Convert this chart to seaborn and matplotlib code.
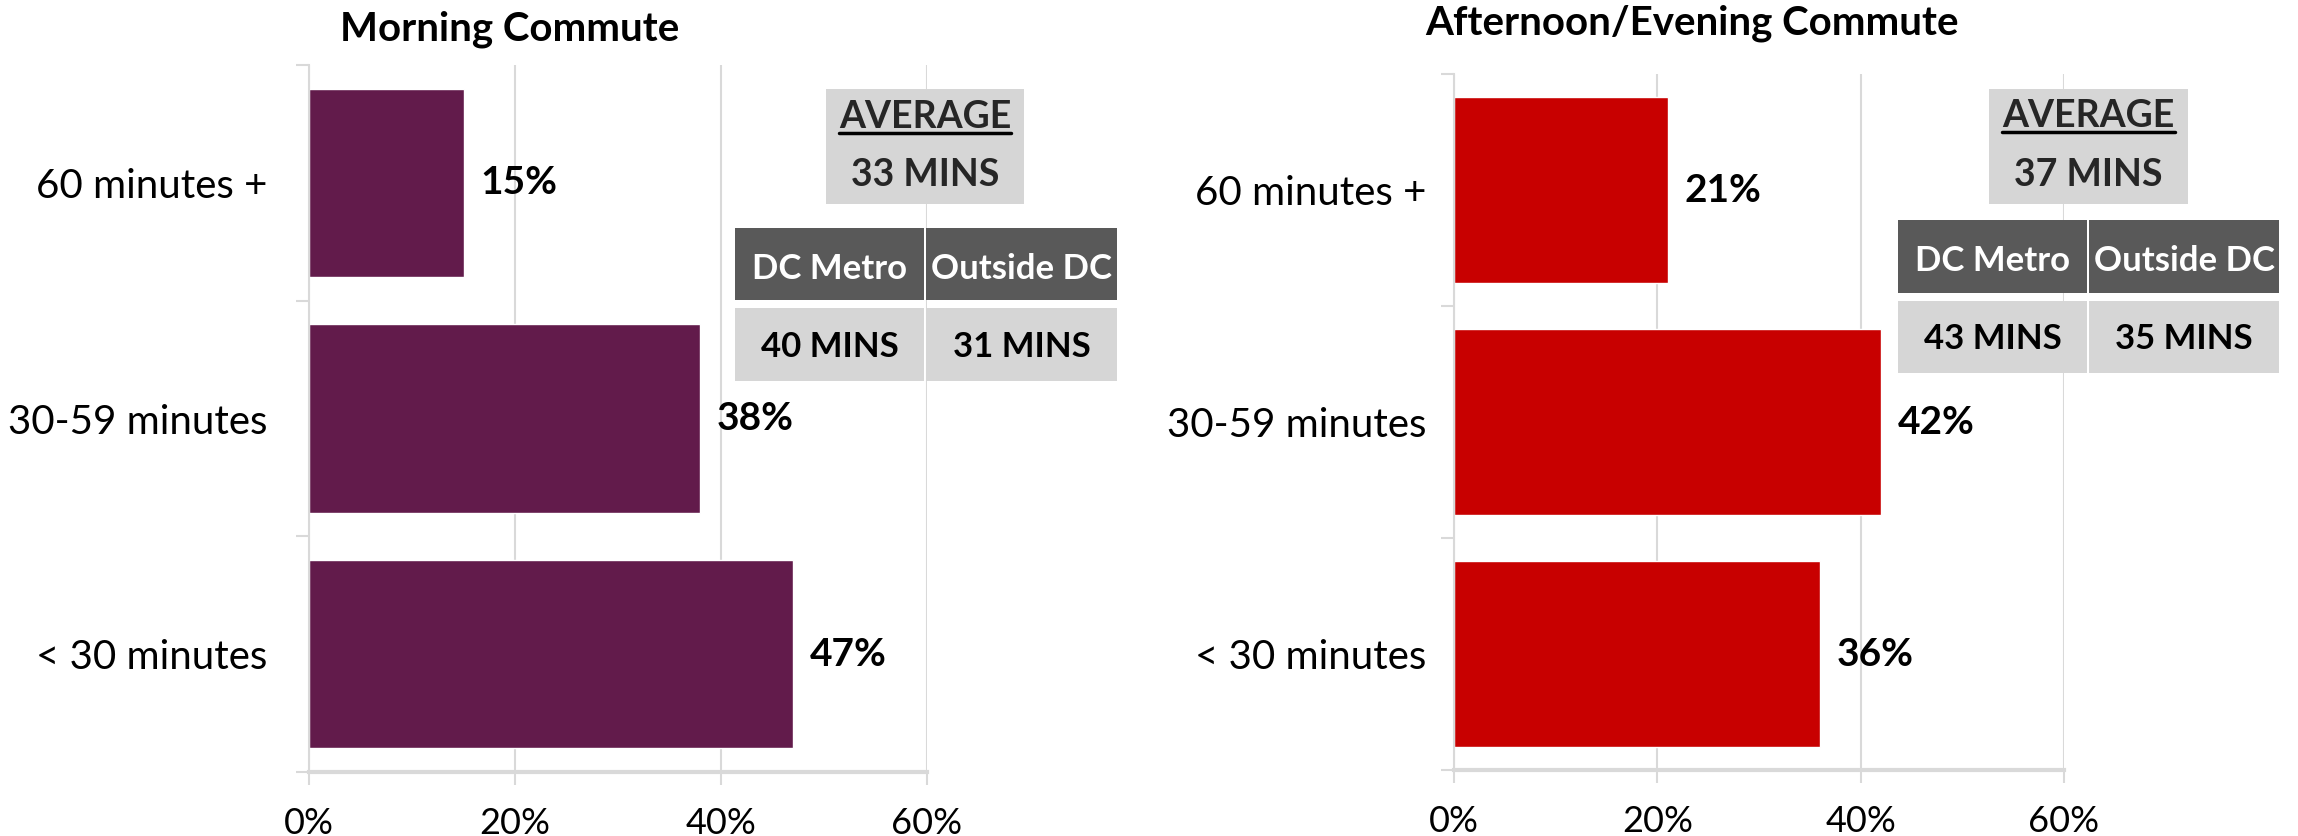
import matplotlib
matplotlib.use("Agg")
import matplotlib.pyplot as plt
from matplotlib.patches import Rectangle
from matplotlib.lines import Line2D
from matplotlib.ticker import FixedLocator, FuncFormatter
import pandas as pd
import seaborn as sns

# ── data ──────────────────────────────────────────────────────
categories = ["60 minutes +", "30-59 minutes", "< 30 minutes"]
morning_pct = [15, 38, 47]
evening_pct = [21, 42, 36]
panel_titles = ["Morning Commute", "Afternoon/Evening Commute"]
avg_label = "AVERAGE"
avg_mins = ["33 MINS", "37 MINS"]
region_headers = ["DC Metro", "Outside DC"]
morning_region_mins = ["40 MINS", "31 MINS"]
evening_region_mins = ["43 MINS", "35 MINS"]
x_ticks = [0, 20, 40, 60]

# ── style ─────────────────────────────────────────────────────
W, H = 2298, 836
sns.set_style("white")
plt.rcParams["font.family"] = ["Lato", "DejaVu Sans"]

GRID = "#d9d9d9"
DARK = "#595959"
LIGHT = "#d6d6d6"

# panel layout in pixels: axes box (x0, top, x1, bottom), title centre/baseline,
# y label pad, and table cell boxes
panels = [
    dict(values=morning_pct, color="#621b4b", title=panel_titles[0],
         box=(309, 65, 927, 772), title_xy=(510, 40), ypad=30,
         avg=(826, 89, 1024, 204), avg_base=(128, 186),
         hdr_y=(228, 300), val_y=(308, 381), cols=(735, 925, 1117),
         hdr_base=279, val_base=357,
         avg_text=avg_mins[0], region=morning_region_mins),
    dict(values=evening_pct, color="#c80000", title=panel_titles[1],
         box=(1454, 74, 2064, 770), title_xy=(1692, 35), ypad=20,
         avg=(1989, 89, 2188, 204), avg_base=(127, 186),
         hdr_y=(220, 293), val_y=(301, 373), cols=(1898, 2088, 2279),
         hdr_base=271, val_base=349,
         avg_text=avg_mins[1], region=evening_region_mins),
]


def fx(px):
    return px / W


def fy(py):
    return 1 - py / H


def cell(fig, x0, y0, x1, y1, fc):
    fig.patches.append(Rectangle((fx(x0), fy(y1)), fx(x1) - fx(x0), fy(y0) - fy(y1),
                                 transform=fig.transFigure, facecolor=fc,
                                 edgecolor="none", zorder=5))


fig = plt.figure(figsize=(W / 100, H / 100), dpi=100)
avg_texts = []

for p in panels:
    x0, top, x1, bottom = p["box"]
    ax = fig.add_axes([fx(x0), fy(bottom), fx(x1) - fx(x0), fy(top) - fy(bottom)])

    df = pd.DataFrame({"category": categories, "pct": p["values"]})
    sns.barplot(data=df, x="pct", y="category", order=categories, orient="h",
                color=p["color"], saturation=1, width=0.8, errorbar=None, ax=ax)

    ax.set_xlim(0, 60)
    ax.set_ylim(2.5, -0.5)
    ax.set_xlabel("")
    ax.set_ylabel("")
    ax.xaxis.set_major_locator(FixedLocator(x_ticks))
    ax.xaxis.set_major_formatter(FuncFormatter(lambda v, _: f"{v:.0f}%"))
    ax.xaxis.grid(True, color=GRID, lw=1.5)
    ax.set_axisbelow(True)

    for s in ["top", "right"]:
        ax.spines[s].set_visible(False)
    ax.spines["left"].set_color(GRID)
    ax.spines["left"].set_linewidth(1.5)
    ax.spines["bottom"].set_color(GRID)
    ax.spines["bottom"].set_linewidth(3)

    ax.yaxis.set_minor_locator(FixedLocator([-0.5, 0.5, 1.5, 2.5]))
    ax.tick_params(axis="y", which="major", length=0, pad=p["ypad"],
                   labelsize=29, labelcolor="black")
    ax.tick_params(axis="y", which="minor", length=9.5, width=1.5, color=GRID,
                   left=True, direction="out")
    ax.tick_params(axis="x", which="major", length=9, width=1.5, color=GRID,
                   bottom=True, direction="out", pad=16, labelsize=26,
                   labelcolor="black")

    ax.bar_label(ax.containers[0], labels=[f"{v}%" for v in p["values"]],
                 padding=12, fontsize=28, fontweight="bold", color="black")

    tx, tb = p["title_xy"]
    fig.text(fx(tx), fy(tb), p["title"], ha="center", va="baseline",
             fontsize=29, fontweight="bold", color="black")

    # average box
    ax0, ay0, ax1, ay1 = p["avg"]
    cell(fig, ax0, ay0, ax1, ay1, LIGHT)
    acx = (ax0 + ax1) / 2
    t = fig.text(fx(acx), fy(p["avg_base"][0]), avg_label, ha="center",
                 va="baseline", fontsize=27, fontweight="bold", zorder=6)
    avg_texts.append((t, p["avg_base"][0]))
    fig.text(fx(acx), fy(p["avg_base"][1]), p["avg_text"], ha="center",
             va="baseline", fontsize=27, fontweight="bold", zorder=6)

    # region table
    c0, c1, c2 = p["cols"]
    hy0, hy1 = p["hdr_y"]
    vy0, vy1 = p["val_y"]
    for (l, r), head, val in zip([(c0, c1 - 1), (c1 + 1, c2)], region_headers, p["region"]):
        cell(fig, l, hy0, r, hy1, DARK)
        cell(fig, l, vy0, r, vy1, LIGHT)
        fig.text(fx((l + r) / 2), fy(p["hdr_base"]), head, ha="center",
                 va="baseline", fontsize=25, fontweight="bold", color="white", zorder=6)
        fig.text(fx((l + r) / 2), fy(p["val_base"]), val, ha="center",
                 va="baseline", fontsize=25, fontweight="bold", color="black", zorder=6)

# underline the AVERAGE headings
fig.canvas.draw()
renderer = fig.canvas.get_renderer()
for t, base in avg_texts:
    bb = t.get_window_extent(renderer)
    fig.lines.append(Line2D([bb.x0 / W, bb.x1 / W], [fy(base + 5)] * 2,
                            transform=fig.transFigure, color="black", lw=2.5, zorder=7))

fig.savefig("out.png", dpi=100)
